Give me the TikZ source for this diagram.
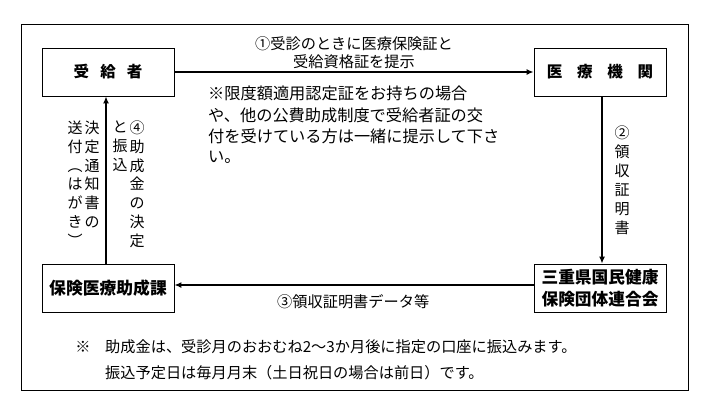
\documentclass[tikz,border=0pt]{standalone}
\usepackage{fontspec}
\setmainfont{Noto Sans CJK JP}
\usetikzlibrary{arrows.meta}
\begin{document}
\begin{tikzpicture}[x=1pt,y=-1pt,
 box/.style={draw, line width=0.8pt, minimum width=132pt, minimum height=48pt, inner sep=0pt, font=\fontsize{15.5}{18}\selectfont\bfseries},
 flow/.style={line width=1.8pt, -{Latex[length=7pt,width=6pt]}},
 lbl/.style={inner sep=0pt, font=\fontsize{15.2}{18}\selectfont},
 note/.style={inner sep=0pt, anchor=west, font=\fontsize{16.2}{20}\selectfont},
 vert/.style={inner sep=0pt, align=center, anchor=north, font=\fontsize{15}{18.7}\selectfont}]
\useasboundingbox (0,0) rectangle (709,416);
\fill[white] (0,0) rectangle (709,416);
\draw[line width=0.8pt] (21,24) rectangle (688,390);
\node[box] (rec) at (108,72) {受\hspace{0.72em}給\hspace{0.72em}者};
\node[box] (med) at (600,72) {医\hspace{0.95em}療\hspace{0.95em}機\hspace{0.95em}関};
\node[box, font=\fontsize{16.8}{18}\selectfont\bfseries] (sub) at (108,288) {保険医療助成課};
\node[box, align=center, font=\fontsize{16.7}{22}\selectfont\bfseries] (fed) at (600,288) {三重県国民健康\\保険団体連合会};
\draw[flow] (rec.east) -- (med.west);
\draw[flow] ([xshift=2pt]med.south) -- ([xshift=2pt]fed.north);
\draw[flow] ([yshift=3pt]fed.west) -- ([yshift=3pt]sub.east);
\draw[flow] ([xshift=-2pt]sub.north) -- ([xshift=-2pt]rec.south);
% label 1
\node[lbl] (l1a) at (354,44) {①受診のときに医療保険証と};
\node[lbl] (l1b) at (354,62) {受給資格証を提示};
% note
\node[note] (n1) at (208,93) {※限度額適用認定証をお持ちの場合};
\node[note] (n2) at (208,115) {や、他の公費助成制度で受給者証の交};
\node[note] (n3) at (208,136) {付を受けている方は一緒に提示して下さ};
\node[note] (n4) at (208,157) {い。};
% vertical labels
\node[vert] (v1) at (92,121) {決\\定\\通\\知\\書\\の};
\node[vert] (v2) at (75,121) {送\\付\\︵\\は\\が\\き\\︶};
\node[vert] (v3) at (137,121) {④\\助\\成\\金\\の\\決\\定};
\node[vert] (v4) at (120,121) {と\\振\\込};
\node[vert, font=\fontsize{15}{19}\selectfont] (v5) at (622,126) {②\\領\\収\\証\\明\\書};
% label 3
\node[lbl, anchor=west] (l3) at (277,302) {③領収証明書データ等};
% footnote
\node[lbl] (fm) at (83,347) {※};
\node[lbl, anchor=west] (f1) at (105,347) {助成金は、受診月のおおむね2～3か月後に指定の口座に振込みます。};
\node[lbl, anchor=west] (f2) at (105,373) {振込予定日は毎月月末（土日祝日の場合は前日）です。};
\end{tikzpicture}
\end{document}
